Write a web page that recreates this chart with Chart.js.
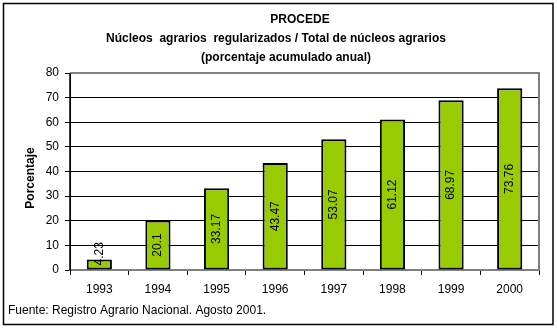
<!DOCTYPE html>
<html>
<head>
<meta charset="utf-8">
<script src="https://cdn.jsdelivr.net/npm/chart.js@4/dist/chart.umd.min.js"></script>
<style>
  html, body { margin: 0; padding: 0; background: #fff; }
  #wrap { width: 557px; height: 330px; }
</style>
</head>
<body>
<div id="wrap"><canvas id="grafica" width="557" height="330"></canvas></div>
<script>
// Datos del gráfico
const anios = ['1993', '1994', '1995', '1996', '1997', '1998', '1999', '2000'];
const porcentajes = [4.23, 20.1, 33.17, 43.47, 53.07, 61.12, 68.97, 73.76];
const etiquetas = ['4.23', '20.1', '33.17', '43.47', '53.07', '61.12', '68.97', '73.76'];
const titulo = ['PROCEDE', 'Núcleos  agrarios  regularizados / Total de núcleos agrarios', '(porcentaje acumulado anual)'];
const fuente = 'Fuente: Registro Agrario Nacional. Agosto 2001.';

const FUENTE = 'Arial, "Liberation Sans", sans-serif';

// Marco, títulos, borde gris del área y etiquetas verticales
const decoracion = {
    id: 'decoracion',
    beforeDraw(chart) {
        const c = chart.ctx;
        c.save();
        c.fillStyle = '#fff';
        c.fillRect(0, 0, chart.width, chart.height);
        c.restore();
    },
    afterDraw(chart) {
        const c = chart.ctx;
        const a = chart.chartArea;
        c.save();
        // marco exterior
        c.strokeStyle = '#000';
        c.lineWidth = 1.5;
        c.strokeRect(3.5, 3.5, 549.5, 321);

        // títulos
        c.fillStyle = '#000';
        c.textAlign = 'center';
        c.textBaseline = 'middle';
        c.font = 'bold 12px ' + FUENTE;
        const ys = [20, 39, 58];
        const xs = [300, 276, 286];
        titulo.forEach((t, i) => c.fillText(t, xs[i], ys[i]));

        // título del eje Y
        c.save();
        c.translate(31, 178);
        c.rotate(-Math.PI / 2);
        c.fillText('Porcentaje', 0, 0);
        c.restore();

        // fuente
        c.textAlign = 'left';
        c.font = '12px ' + FUENTE;
        c.fillText(fuente, 8, 311);

        // borde gris superior y derecho del área
        c.strokeStyle = '#808080';
        c.lineWidth = 2;
        c.beginPath();
        c.moveTo(a.left, a.top);
        c.lineTo(a.right, a.top);
        c.lineTo(a.right, a.bottom);
        c.stroke();

        // eje Y negro
        c.strokeStyle = '#000';
        c.lineWidth = 1.5;
        c.beginPath();
        c.moveTo(a.left, a.top);
        c.lineTo(a.left, a.bottom);
        c.stroke();

        // etiquetas de datos verticales
        const meta = chart.getDatasetMeta(0);
        c.font = '12px ' + FUENTE;
        c.textAlign = 'center';
        c.textBaseline = 'middle';
        meta.data.forEach((bar, i) => {
            const txt = etiquetas[i];
            const w = c.measureText(txt).width;
            let cy = (bar.y + bar.base) / 2;
            cy = Math.min(cy, bar.base - w / 2 - 4);
            c.save();
            c.translate(bar.x, cy);
            c.rotate(-Math.PI / 2);
            c.fillText(txt, 0, 0);
            c.restore();
        });
        c.restore();
    }
};

new Chart(document.getElementById('grafica'), {
    type: 'bar',
    data: {
        labels: anios,
        datasets: [{
            data: porcentajes,
            backgroundColor: '#99CC00',
            borderColor: '#000',
            borderWidth: 2,
            borderSkipped: false,
            categoryPercentage: 1,
            barPercentage: 0.43
        }]
    },
    options: {
        responsive: false,
        animation: false,
        devicePixelRatio: 1,
        layout: { padding: { left: 0, top: 73, right: 18, bottom: 30 } },
        plugins: {
            legend: { display: false },
            tooltip: { enabled: false },
            title: { display: false }
        },
        scales: {
            x: {
                afterFit(s) { s.height = 30; },
                border: { color: '#808080', width: 2 },
                grid: {
                    offset: true,
                    drawOnChartArea: false,
                    drawTicks: true,
                    tickLength: 5,
                    tickColor: '#000'
                },
                ticks: {
                    color: '#000',
                    padding: 7,
                    maxRotation: 0,
                    font: { family: FUENTE, size: 12 }
                }
            },
            y: {
                min: 0,
                max: 80,
                afterFit(s) { s.width = 70; },
                border: { color: '#000', width: 1 },
                grid: {
                    color: (ctx) => (ctx.tick && (ctx.tick.value === 0 || ctx.tick.value === 80)) ? '#808080' : '#000',
                    lineWidth: 1,
                    tickLength: 5,
                    tickColor: '#000'
                },
                ticks: {
                    stepSize: 10,
                    color: '#000',
                    padding: 6,
                    font: { family: FUENTE, size: 12 }
                }
            }
        }
    },
    plugins: [decoracion]
});
</script>
</body>
</html>
